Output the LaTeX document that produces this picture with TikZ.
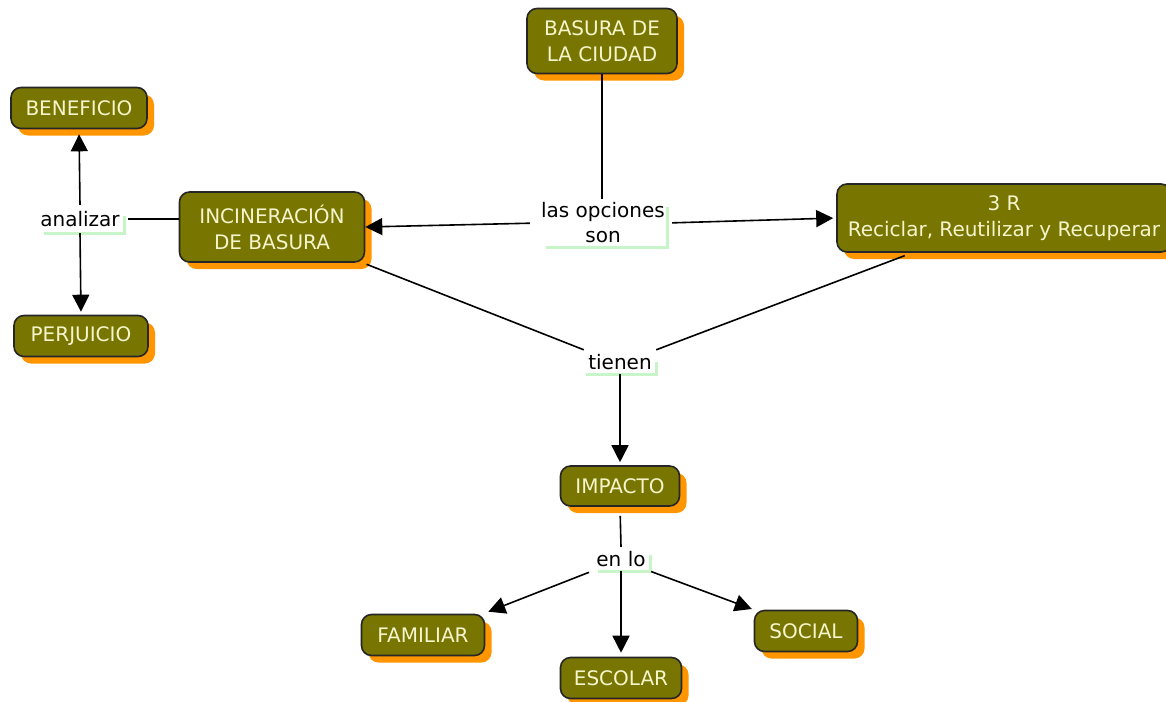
\documentclass[tikz,border=0pt]{standalone}
\usepackage{fontspec}
\setmainfont{DejaVu Sans}
\usetikzlibrary{arrows.meta,shadows}
\definecolor{olivefill}{RGB}{120,118,0}
\definecolor{shadoworange}{RGB}{255,150,0}
\definecolor{creamtext}{RGB}{245,245,205}
\definecolor{bracketgreen}{RGB}{200,245,200}
\tikzset{
  concept/.style={draw=black!85, line width=1.6pt, rounded corners=10pt, fill=olivefill,
    text=creamtext, align=center, font=\fontsize{20}{26}\selectfont, inner sep=0pt,
    drop shadow={shadow xshift=7pt, shadow yshift=-7pt, fill=shadoworange, opacity=1}},
  linklabel/.style={fill=white, align=center, font=\fontsize{20}{25}\selectfont, inner sep=0pt},
  bracket/.style={draw=bracketgreen, line width=3pt},
  conn/.style={draw=black, line width=1.6pt},
  arr/.style={conn, -{Triangle[length=17pt,width=17pt]}}
}
\begin{document}
\begin{tikzpicture}[x=1pt,y=-1pt]
\useasboundingbox[fill=white] (0,0) rectangle (1166,701);
% concepts
\node[concept, minimum width=150pt, minimum height=65pt] (bas) at (602,41) {BASURA DE\\LA CIUDAD};
\node[concept, minimum width=136pt, minimum height=41pt] (ben) at (79,108) {BENEFICIO};
\node[concept, minimum width=185pt, minimum height=70pt] (inc) at (272,227) {INCINERACIÓN\\DE BASURA};
\node[concept, minimum width=134pt, minimum height=41pt] (per) at (81,336) {PERJUICIO};
\node[concept, minimum width=334pt, minimum height=68pt] (tres) at (1004,218) {3 R\\Reciclar, Reutilizar y Recuperar};
\node[concept, minimum width=119pt, minimum height=40pt] (imp) at (620,486) {IMPACTO};
\node[concept, minimum width=123pt, minimum height=41pt] (fam) at (423,635) {FAMILIAR};
\node[concept, minimum width=121pt, minimum height=41pt] (esc) at (621,678) {ESCOLAR};
\node[concept, minimum width=103pt, minimum height=41pt] (soc) at (806,631) {SOCIAL};
% link labels
\node[linklabel, minimum width=88pt, minimum height=28pt] (an) at (80,219) {analizar};
\node[linklabel, minimum width=128pt, minimum height=48pt] (op) at (603,223) {las opciones\\son};
\node[linklabel, minimum width=72pt, minimum height=24pt] (tie) at (620,362) {tienen};
\node[linklabel, minimum width=58pt, minimum height=24pt] (en) at (621,559) {en lo};
% brackets
\draw[bracket] ([xshift=8pt]an.south west) -- (an.south east) -- ([yshift=3pt]an.east);
\draw[bracket] ([xshift=7pt]op.south west) -- (op.south east) -- ([yshift=-8pt]op.north east);
\draw[bracket] ([xshift=2pt]tie.south west) -- (tie.south east) -- (tie.east);
\draw[bracket] ([xshift=6pt]en.south west) -- (en.south east) -- ([yshift=4pt]en.east);
% connectors
\draw[conn] (bas.south) -- (bas.south |- op.north);
\draw[arr, shorten <=9pt] (op.west) -- (inc.east);
\draw[arr, shorten <=5pt, shorten >=3pt] (op.east) -- (tres.west);
\draw[conn, shorten <=4pt] (an.east) -- (an.east -| inc.west);
\draw[arr, shorten >=5pt] (an.north) -- (ben.south);
\draw[arr, shorten >=3pt] (an.south) -- (per.north);
\draw[conn, shorten <=4pt] (inc) -- (tie.north west);
\draw[conn, shorten <=8pt] (tres) -- (tie.north east);
\draw[arr, shorten >=3pt] (tie.south) -- (imp.north);
\draw[conn, shorten <=9pt] (imp.south) -- (en.north);
\draw[arr, shorten <=3pt] (en.south west) -- ([xshift=3pt,yshift=2pt]fam.north east);
\draw[arr, shorten >=4pt] (en.south) -- (esc.north);
\draw[arr, shorten <=1pt, shorten >=2pt] (en.south east) -- (soc.north west);
\end{tikzpicture}
\end{document}
